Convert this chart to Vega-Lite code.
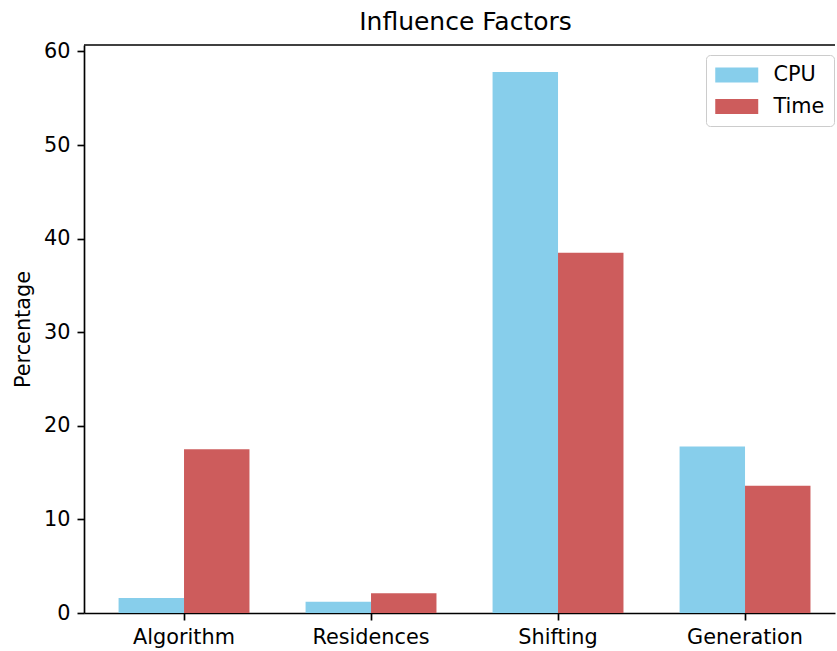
{
  "$schema": "https://vega.github.io/schema/vega-lite/v6.json",
  "width": 751,
  "height": 568,
  "padding": {"left": 12, "top": 10, "right": 0, "bottom": 4},
  "title": {"text": "Influence Factors", "fontSize": 25, "fontWeight": "normal", "font": "DejaVu Sans", "color": "black", "offset": 5, "dx": 6},
  "data": {"values": [
    {"factor": "Algorithm", "series": "CPU", "value": 1.6},
    {"factor": "Algorithm", "series": "Time", "value": 17.5},
    {"factor": "Residences", "series": "CPU", "value": 1.2},
    {"factor": "Residences", "series": "Time", "value": 2.1},
    {"factor": "Shifting", "series": "CPU", "value": 57.8},
    {"factor": "Shifting", "series": "Time", "value": 38.5},
    {"factor": "Generation", "series": "CPU", "value": 17.8},
    {"factor": "Generation", "series": "Time", "value": 13.6}
  ]},
  "layer": [
    {
      "mark": {"type": "bar"},
      "encoding": {
        "x": {
          "field": "factor", "type": "nominal",
          "sort": ["Algorithm", "Residences", "Shifting", "Generation"],
          "scale": {"paddingInner": 0.3, "paddingOuter": 0.158, "align": 0.585},
          "axis": {"title": null, "labelAngle": 0, "labelPadding": 7}
        },
        "xOffset": {
          "field": "series", "type": "nominal", "sort": ["CPU", "Time"],
          "scale": {"paddingInner": 0, "paddingOuter": 0}
        },
        "y": {
          "field": "value", "type": "quantitative",
          "scale": {"domain": [0, 60.69], "nice": false, "zero": true},
          "axis": {"title": "Percentage", "values": [0, 10, 20, 30, 40, 50, 60], "labelPadding": 7, "titlePadding": 10}
        },
        "color": {
          "field": "series", "type": "nominal",
          "scale": {"domain": ["CPU", "Time"], "range": ["#87CEEB", "#CD5C5C"]},
          "legend": {
            "title": null,
            "orient": "none",
            "legendX": 622,
            "legendY": 10,
            "symbolType": "M-1,-0.7H3V0.7H-1Z",
            "symbolSize": 462,
            "symbolStrokeWidth": 0,
            "symbolOpacity": 1,
            "labelFontSize": 20.8,
            "labelColor": "black",
            "labelOffset": 36.5,
            "rowPadding": 10.5,
            "padding": 9,
            "fillColor": "rgba(255,255,255,0.8)",
            "strokeColor": "#cccccc",
            "cornerRadius": 4
          }
        }
      }
    },
    {
      "data": {"values": [{}]},
      "mark": {"type": "rule", "color": "black", "strokeWidth": 1.67},
      "encoding": {"y": {"datum": 60.69}}
    }
  ],
  "config": {
    "view": {"stroke": null},
    "font": "DejaVu Sans",
    "axis": {
      "grid": false,
      "domainColor": "black",
      "domainWidth": 1.67,
      "tickColor": "black",
      "tickWidth": 1.67,
      "tickSize": 7,
      "labelFontSize": 20.8,
      "labelColor": "black",
      "labelFont": "DejaVu Sans",
      "titleFontSize": 20.8,
      "titleFontWeight": "normal",
      "titleColor": "black",
      "titleFont": "DejaVu Sans"
    },
    "legend": {"labelFont": "DejaVu Sans"}
  }
}
